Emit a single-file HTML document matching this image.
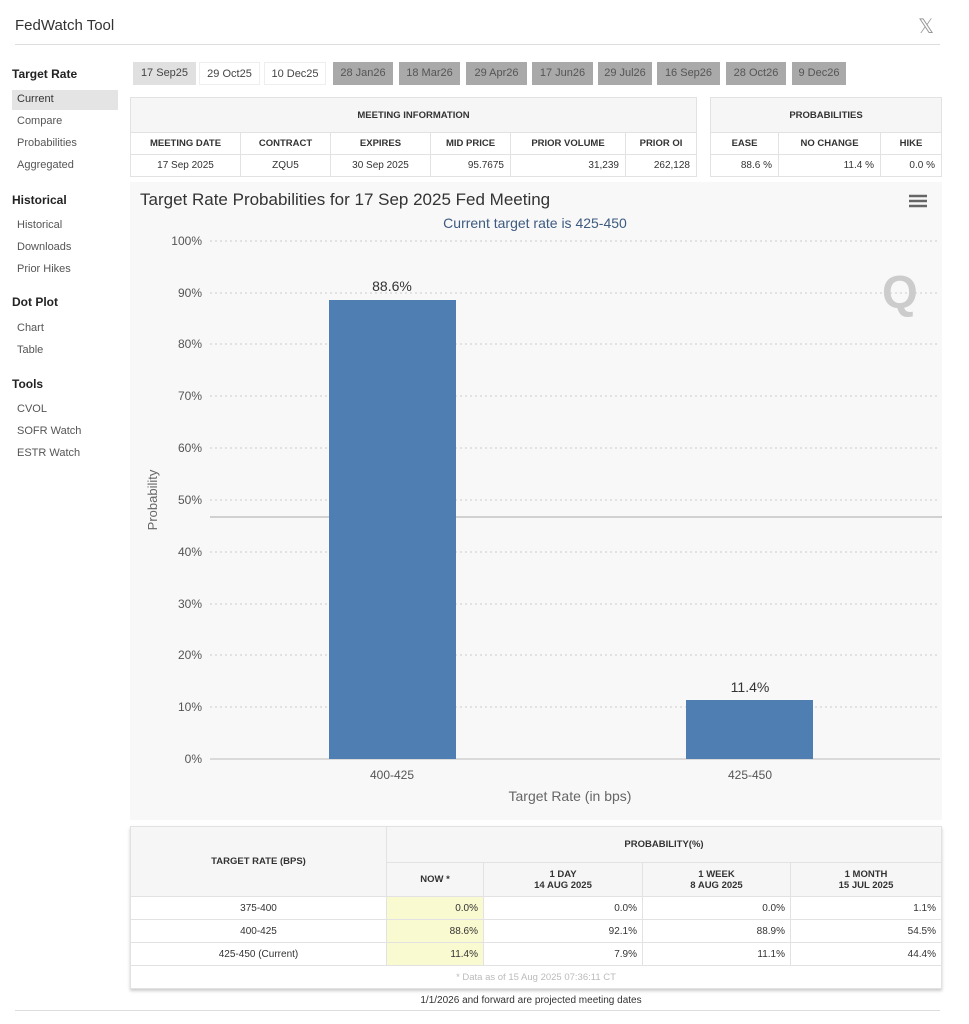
<!DOCTYPE html><html><head><style>
*{margin:0;padding:0;box-sizing:border-box}
body{width:969px;height:1024px;background:#fff;font-family:"Liberation Sans",sans-serif;position:relative;overflow:hidden;color:#333}
.a{position:absolute;white-space:nowrap}
.s{font-size:11px;color:#555}
.h{font-size:12px;font-weight:bold;color:#222}
.tab{position:absolute;top:62px;height:23px;font-size:11px;line-height:23px;text-align:center;color:#444}
.d{background:#a9a9a9;color:#555}
table{position:absolute;border-collapse:collapse;font-size:10px}
td{border:1px solid #e2e2e2;text-align:center;color:#333}
.b td{font-weight:bold;font-size:9.5px}
</style></head><body>
<div class="a" style="left:15px;top:17px;font-size:15px;color:#333">FedWatch Tool</div>
<div class="a" style="left:918px;top:14px;font-size:20px;color:#999">𝕏</div>
<div class="a" style="left:15px;top:44px;width:925px;height:1px;background:#ddd"></div>
<div class="a h" style="left:12px;top:67px">Target Rate</div>
<div class="a" style="left:12px;top:90px;width:106px;height:20px;background:#e4e4e4"></div>
<div class="a s" style="left:17px;top:93px;color:#333">Current</div>
<div class="a s" style="left:17px;top:115px">Compare</div>
<div class="a s" style="left:17px;top:137px">Probabilities</div>
<div class="a s" style="left:17px;top:159px">Aggregated</div>
<div class="a h" style="left:12px;top:193px">Historical</div>
<div class="a s" style="left:17px;top:219px">Historical</div>
<div class="a s" style="left:17px;top:241px">Downloads</div>
<div class="a s" style="left:17px;top:263px">Prior Hikes</div>
<div class="a h" style="left:12px;top:295px">Dot Plot</div>
<div class="a s" style="left:17px;top:322px">Chart</div>
<div class="a s" style="left:17px;top:344px">Table</div>
<div class="a h" style="left:12px;top:377px">Tools</div>
<div class="a s" style="left:17px;top:403px">CVOL</div>
<div class="a s" style="left:17px;top:425px">SOFR Watch</div>
<div class="a s" style="left:17px;top:447px">ESTR Watch</div>

<div class="tab" style="left:133px;width:63px;background:#e0e0e0">17 Sep25</div>
<div class="tab" style="left:199px;width:61px;border:1px solid #eee">29 Oct25</div>
<div class="tab" style="left:264px;width:62px;border:1px solid #eee">10 Dec25</div>
<div class="tab d" style="left:333px;width:60px">28 Jan26</div>
<div class="tab d" style="left:399px;width:61px">18 Mar26</div>
<div class="tab d" style="left:466px;width:61px">29 Apr26</div>
<div class="tab d" style="left:532px;width:61px">17 Jun26</div>
<div class="tab d" style="left:598px;width:54px">29 Jul26</div>
<div class="tab d" style="left:657px;width:63px">16 Sep26</div>
<div class="tab d" style="left:726px;width:60px">28 Oct26</div>
<div class="tab d" style="left:792px;width:54px">9 Dec26</div>

<table style="left:130px;top:97px;width:567px">
<tr class="b" style="height:35px;background:#f6f6f6"><td colspan="6">MEETING INFORMATION</td></tr>
<tr class="b" style="height:22px"><td style="width:110px">MEETING DATE</td><td style="width:90px">CONTRACT</td><td style="width:100px">EXPIRES</td><td style="width:80px">MID PRICE</td><td style="width:115px">PRIOR VOLUME</td><td>PRIOR OI</td></tr>
<tr style="height:22px"><td>17 Sep 2025</td><td>ZQU5</td><td>30 Sep 2025</td><td style="text-align:right;padding-right:6px">95.7675</td><td style="text-align:right;padding-right:6px">31,239</td><td style="text-align:right;padding-right:6px">262,128</td></tr>
</table>
<table style="left:710px;top:97px;width:232px">
<tr class="b" style="height:35px;background:#f6f6f6"><td colspan="3">PROBABILITIES</td></tr>
<tr class="b" style="height:22px"><td style="width:68px">EASE</td><td style="width:102px">NO CHANGE</td><td>HIKE</td></tr>
<tr style="height:22px"><td style="text-align:right;padding-right:6px">88.6 %</td><td style="text-align:right;padding-right:6px">11.4 %</td><td style="text-align:right;padding-right:6px">0.0 %</td></tr>
</table>

<svg class="a" style="left:0;top:0" width="969" height="1024" font-family="Liberation Sans, sans-serif">
<rect x="130" y="182" width="812" height="638" fill="#f8f8f8"/>
<text x="140" y="205" font-size="17" fill="#333">Target Rate Probabilities for 17 Sep 2025 Fed Meeting</text>
<text x="535" y="228" font-size="14" fill="#3d5a80" text-anchor="middle">Current target rate is 425-450</text>
<g stroke="#666" stroke-width="2.5"><line x1="909" y1="196" x2="927" y2="196"/><line x1="909" y1="201" x2="927" y2="201"/><line x1="909" y1="206" x2="927" y2="206"/></g>
<text x="882" y="308" font-size="46" font-weight="bold" fill="#ccc">Q</text>
<g stroke="#ccc" stroke-dasharray="2,3">
<line x1="210" y1="241" x2="940" y2="241"/><line x1="210" y1="293" x2="940" y2="293"/><line x1="210" y1="344" x2="940" y2="344"/><line x1="210" y1="396" x2="940" y2="396"/><line x1="210" y1="448" x2="940" y2="448"/><line x1="210" y1="500" x2="940" y2="500"/><line x1="210" y1="552" x2="940" y2="552"/><line x1="210" y1="604" x2="940" y2="604"/><line x1="210" y1="655" x2="940" y2="655"/><line x1="210" y1="707" x2="940" y2="707"/></g>
<line x1="210" y1="517" x2="942" y2="517" stroke="#aaa"/>
<line x1="210" y1="759" x2="940" y2="759" stroke="#bbb"/>
<g font-size="12" fill="#555" text-anchor="end">
<text x="202" y="245">100%</text><text x="202" y="297">90%</text><text x="202" y="348">80%</text><text x="202" y="400">70%</text><text x="202" y="452">60%</text><text x="202" y="504">50%</text><text x="202" y="556">40%</text><text x="202" y="608">30%</text><text x="202" y="659">20%</text><text x="202" y="711">10%</text><text x="202" y="763">0%</text></g>
<text transform="translate(157,500) rotate(-90)" font-size="13" fill="#666" text-anchor="middle">Probability</text>
<rect x="329" y="300" width="127" height="459" fill="#4f7eb3"/>
<rect x="686" y="700" width="127" height="59" fill="#4f7eb3"/>
<text x="392" y="291" font-size="14" fill="#333" text-anchor="middle">88.6%</text>
<text x="750" y="692" font-size="14" fill="#333" text-anchor="middle">11.4%</text>
<text x="392" y="779" font-size="12" fill="#555" text-anchor="middle">400-425</text>
<text x="750" y="779" font-size="12" fill="#555" text-anchor="middle">425-450</text>
<text x="570" y="801" font-size="14" fill="#666" text-anchor="middle">Target Rate (in bps)</text>
</svg>

<table style="left:130px;top:826px;width:812px;box-shadow:0 2px 3px #ccc">
<tr class="b" style="height:36px;background:#f6f6f6"><td rowspan="2" style="width:256px">TARGET RATE (BPS)</td><td colspan="4">PROBABILITY(%)</td></tr>
<tr class="b" style="height:34px;background:#f6f6f6"><td style="width:97px">NOW *</td><td style="width:159px">1 DAY<br>14 AUG 2025</td><td style="width:148px">1 WEEK<br>8 AUG 2025</td><td>1 MONTH<br>15 JUL 2025</td></tr>
<tr style="height:23px"><td>375-400</td><td style="background:#fafad0;text-align:right;padding-right:5px">0.0%</td><td style="text-align:right;padding-right:5px">0.0%</td><td style="text-align:right;padding-right:5px">0.0%</td><td style="text-align:right;padding-right:5px">1.1%</td></tr>
<tr style="height:23px"><td>400-425</td><td style="background:#fafad0;text-align:right;padding-right:5px">88.6%</td><td style="text-align:right;padding-right:5px">92.1%</td><td style="text-align:right;padding-right:5px">88.9%</td><td style="text-align:right;padding-right:5px">54.5%</td></tr>
<tr style="height:23px"><td>425-450 (Current)</td><td style="background:#fafad0;text-align:right;padding-right:5px">11.4%</td><td style="text-align:right;padding-right:5px">7.9%</td><td style="text-align:right;padding-right:5px">11.1%</td><td style="text-align:right;padding-right:5px">44.4%</td></tr>
<tr style="height:23px"><td colspan="5" style="color:#bbb;font-size:9.5px">* Data as of 15 Aug 2025 07:36:11 CT</td></tr>
</table>
<div class="a" style="left:0;width:1062px;top:995px;text-align:center;font-size:10px;color:#333">1/1/2026 and forward are projected meeting dates</div>
<div class="a" style="left:15px;top:1010px;width:925px;height:1px;background:#ddd"></div>
</body></html>
